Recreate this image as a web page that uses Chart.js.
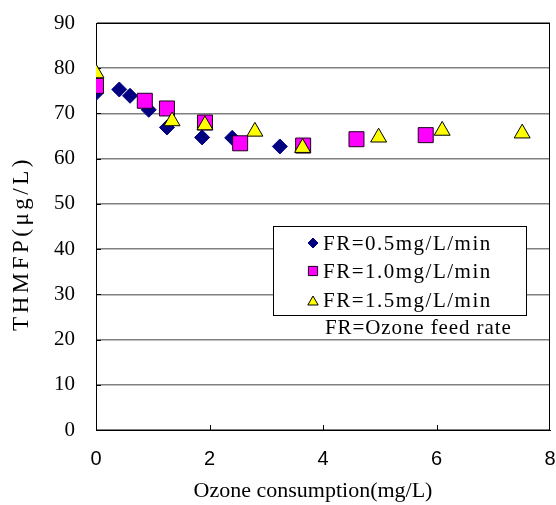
<!DOCTYPE html>
<html>
<head>
<meta charset="utf-8">
<script src="https://cdn.jsdelivr.net/npm/chart.js@4/dist/chart.umd.min.js"></script>
<style>
  html, body { margin: 0; padding: 0; background: #fff; }
  canvas { display: block; }
</style>
</head>
<body>
<canvas id="c" width="556" height="505"></canvas>
<script>
// THMFP vs. ozone consumption at three ozone feed rates
const seriesLabels = ['FR=0.5mg/L/min', 'FR=1.0mg/L/min', 'FR=1.5mg/L/min'];
const noteText = 'FR=Ozone feed rate';

const fr05X = [0, 0.41, 0.60, 0.93, 1.25, 1.87, 2.40, 3.24];
const fr05Y = [74.5, 75.3, 73.9, 70.8, 66.9, 64.7, 64.6, 62.7];

const fr10X = [0, 0.86, 1.25, 1.92, 2.54, 3.65, 4.59, 5.81];
const fr10Y = [76.1, 72.8, 71.1, 68.0, 63.4, 62.9, 64.3, 65.2];

const fr15X = [0, 1.34, 1.92, 2.80, 3.64, 4.98, 6.10, 7.51];
const fr15Y = [78.9, 68.3, 67.4, 66.0, 62.4, 64.7, 66.2, 65.6];

const xTickValues = [0, 2, 4, 6, 8];
const yTickValues = [0, 10, 20, 30, 40, 50, 60, 70, 80, 90];

const xTitle = 'Ozone consumption(mg/L)';
const yTitle = 'THMFP(μg/L)';

const SERIF = "'Liberation Serif', 'DejaVu Serif', serif";
const SANS = "'Liberation Sans', Arial, sans-serif";

function pts(xs, ys) { return xs.map((x, i) => ({ x: x, y: ys[i] })); }
const noPadding = () => ({ left: 0, top: 0, right: 0, bottom: 0 });

// Plot frame and inward tick marks, drawn beneath the markers
const framePlugin = {
  id: 'frame',
  beforeDatasetsDraw(chart) {
    const { ctx, chartArea: a, scales } = chart;
    ctx.save();
    ctx.strokeStyle = '#000';
    ctx.lineWidth = 1;
    ctx.strokeRect(Math.round(a.left) + 0.5, Math.round(a.top) + 0.5,
                   Math.round(a.right - a.left) - 1, Math.round(a.bottom - a.top));
    ctx.beginPath();
    xTickValues.slice(1, -1).forEach(v => {
      const px = Math.round(scales.x.getPixelForValue(v)) + 0.5;
      ctx.moveTo(px, a.bottom);
      ctx.lineTo(px, a.bottom - 5);
    });
    yTickValues.slice(1, -1).forEach(v => {
      const py = Math.round(scales.y.getPixelForValue(v)) + 0.5;
      ctx.moveTo(a.left, py);
      ctx.lineTo(a.left + 5, py);
    });
    ctx.stroke();
    ctx.restore();
  }
};

// Axis titles, set in a wide-spaced serif face
const axisTitlePlugin = {
  id: 'axisTitles',
  afterDraw(chart) {
    const { ctx, chartArea: a } = chart;
    ctx.save();
    ctx.fillStyle = '#000';
    ctx.textAlign = 'center';
    ctx.textBaseline = 'middle';
    ctx.font = '22px ' + SERIF;
    ctx.fillText(xTitle, (a.left + a.right) / 2 - 10, 491);
    ctx.translate(22, (a.top + a.bottom) / 2 + 19);
    ctx.rotate(-Math.PI / 2);
    ctx.font = '23px ' + SERIF;
    ctx.letterSpacing = '3.5px';
    ctx.fillText(yTitle, 2, 0);
    ctx.letterSpacing = '0px';
    ctx.restore();
  }
};

// Boxed legend inside the plot, plus the abbreviation note
const legendBoxPlugin = {
  id: 'legendBox',
  afterDatasetsDraw(chart) {
    const { ctx } = chart;
    const box = { x: 273.5, y: 226.5, w: 253, h: 89 };
    ctx.save();
    ctx.fillStyle = '#fff';
    ctx.strokeStyle = '#000';
    ctx.lineWidth = 1;
    ctx.fillRect(box.x, box.y, box.w, box.h);
    ctx.strokeRect(box.x, box.y, box.w, box.h);
    const rowY = [243, 271, 300];
    const markerSize = [5, 6.5, 6];
    ctx.textBaseline = 'middle';
    ctx.textAlign = 'left';
    chart.data.datasets.forEach((ds, i) => {
      ctx.fillStyle = ds.backgroundColor;
      ctx.strokeStyle = ds.borderColor;
      ctx.lineWidth = 1;
      Chart.helpers.drawPoint(ctx, { pointStyle: ds.pointStyle, radius: markerSize[i], rotation: 0, borderWidth: 1 },
        313, rowY[i] + (ds.pointStyle === 'triangle' ? 2 : 0));
      ctx.fillStyle = '#000';
      ctx.font = '21px ' + SERIF;
      ctx.letterSpacing = '1.5px';
      ctx.fillText(ds.label, 323, rowY[i] + 1);
    });
    ctx.fillStyle = '#000';
    ctx.font = '21px ' + SERIF;
    ctx.letterSpacing = '0.9px';
    ctx.fillText(noteText, 325, 328);
    ctx.letterSpacing = '0px';
    ctx.restore();
  }
};

new Chart(document.getElementById('c'), {
  type: 'scatter',
  data: {
    datasets: [
      {
        label: seriesLabels[0], data: pts(fr05X, fr05Y),
        pointStyle: 'rectRot', pointRadius: 7.5, pointHoverRadius: 7.5,
        backgroundColor: '#000080', borderColor: '#000080', borderWidth: 1, order: 3
      },
      {
        label: seriesLabels[1], data: pts(fr10X, fr10Y),
        pointStyle: 'rect', pointRadius: 10.6, pointHoverRadius: 10.6,
        backgroundColor: '#ff00ff', borderColor: '#1a001a', borderWidth: 1, order: 2
      },
      {
        label: seriesLabels[2], data: pts(fr15X, fr15Y),
        pointStyle: 'triangle', pointRadius: 9.2, pointHoverRadius: 9.2,
        backgroundColor: '#ffff00', borderColor: '#000', borderWidth: 1, order: 1
      }
    ]
  },
  options: {
    responsive: false,
    animation: false,
    events: [],
    layout: { autoPadding: false, padding: { left: 0, right: 6, top: 23, bottom: 0 } },
    plugins: { legend: { display: false }, tooltip: { enabled: false } },
    scales: {
      x: {
        type: 'linear', min: 0, max: 8,
        afterBuildTicks(scale) { scale.ticks = xTickValues.map(v => ({ value: v })); },
        afterFit(scale) { scale.height = 75; scale.getPadding = noPadding; },
        grid: { display: false, drawTicks: false },
        border: { display: true, color: '#000', width: 1 },
        ticks: { color: '#000', font: { family: SANS, size: 20 }, padding: 17, maxRotation: 0 },
        title: { display: false }
      },
      y: {
        type: 'linear', min: 0, max: 90,
        afterBuildTicks(scale) { scale.ticks = yTickValues.map(v => ({ value: v })); },
        afterFit(scale) { scale.width = 96; scale.getPadding = noPadding; },
        grid: { color: '#808080', lineWidth: 1.5, drawTicks: false },
        border: { display: true, color: '#000', width: 1 },
        ticks: { color: '#000', font: { family: SERIF, size: 21 }, padding: 21 },
        title: { display: false }
      }
    }
  },
  plugins: [framePlugin, legendBoxPlugin, axisTitlePlugin]
});
</script>
</body>
</html>
